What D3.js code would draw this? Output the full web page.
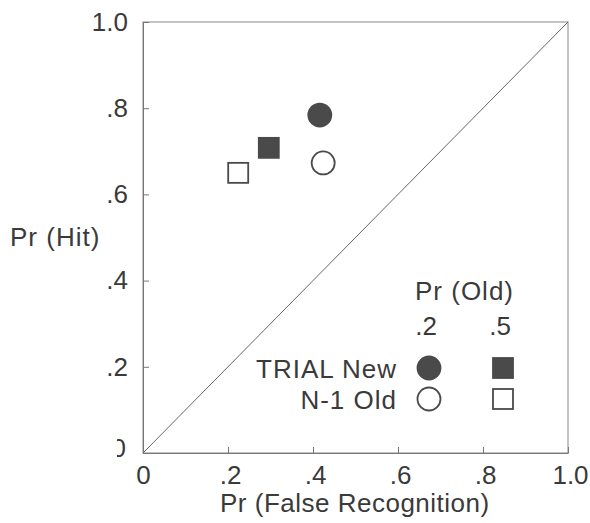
<!DOCTYPE html>
<html>
<head>
<meta charset="utf-8">
<script src="https://cdn.jsdelivr.net/npm/d3@7"></script>
<style>
  body { margin: 0; background: #fff; }
  text { font-family: "Liberation Sans", Arial, sans-serif; fill: #3a3a3a; }
</style>
</head>
<body>
<svg width="590" height="523"></svg>
<script>
// data
const conditions = ['TRIAL New', 'N-1 Old'];      // filled / open markers
const prOldLevels = ['.2', '.5'];                  // circle / square markers
const falseRecognition = [[0.416, 0.296], [0.424, 0.224]]; // [condition][prOld]
const hitRate = [[0.784, 0.708], [0.673, 0.650]];
const tickValues = [0, 0.2, 0.4, 0.6, 0.8, 1.0];

const svg = d3.select('svg');
const mLeft = 143, mRight = 568, mTop = 22, mBottom = 453;

const x = d3.scaleLinear().domain([0, 1]).range([mLeft, mRight]);
const y = d3.scaleLinear().domain([0, 1]).range([mBottom, mTop]);
const fmt = d => d === 0 ? '0' : d === 1 ? '1.0' : '.' + Math.round(d * 10);

const ink = '#4a4a4a';

// frame
svg.append('rect')
    .attr('x', mLeft).attr('y', mTop)
    .attr('width', mRight - mLeft).attr('height', mBottom - mTop)
    .attr('fill', 'none').attr('stroke', '#888').attr('stroke-width', 1);

// diagonal chance line
svg.append('line')
    .attr('x1', x(0)).attr('y1', y(0))
    .attr('x2', x(1)).attr('y2', y(1))
    .attr('stroke', '#666').attr('stroke-width', 1);

// axes, ticks pointing inward
const yAxis = svg.append('g')
    .attr('transform', `translate(${mLeft},0)`)
    .call(d3.axisLeft(y).tickValues(tickValues).tickFormat(fmt).tickSizeInner(-6).tickSizeOuter(0).tickPadding(15));
const xAxis = svg.append('g')
    .attr('transform', `translate(0,${mBottom})`)
    .call(d3.axisBottom(x).tickValues(tickValues).tickFormat(fmt).tickSizeInner(-6).tickSizeOuter(0).tickPadding(13));

[yAxis, xAxis].forEach(g => {
    g.select('.domain').attr('stroke', '#777');
    g.selectAll('.tick line').attr('stroke', '#777');
    g.selectAll('.tick text')
        .attr('font-family', '"Liberation Sans", Arial, sans-serif')
        .attr('font-size', 26)
        .attr('fill', '#3a3a3a');
});
xAxis.selectAll('.tick text').attr('dx', d => d === 0 ? 0 : 2);

// the y "0" is half cut off in the original print
svg.append('clipPath').attr('id', 'zeroClip')
    .append('rect').attr('x', -26).attr('y', -30).attr('width', 9).attr('height', 60);
yAxis.selectAll('.tick').filter(d => d === 0).select('text')
    .attr('x', -17).attr('dy', '0.15em')
    .attr('clip-path', 'url(#zeroClip)');

// axis titles
svg.append('text')
    .attr('x', 10).attr('y', 246)
    .attr('font-size', 26).attr('letter-spacing', 1)
    .text('Pr (Hit)');
svg.append('text')
    .attr('x', 220).attr('y', 512)
    .attr('font-size', 26).attr('letter-spacing', 0.5)
    .text('Pr (False Recognition)');

// marker drawing
const marker = (g, shape, filled, cx, cy) => {
    if (shape === 0) {
        g.append('circle').attr('cx', cx).attr('cy', cy).attr('r', 11.5)
            .attr('fill', filled ? ink : '#fff').attr('stroke', ink).attr('stroke-width', 1.8);
    } else {
        g.append('rect').attr('x', cx - 10).attr('y', cy - 10).attr('width', 20).attr('height', 20)
            .attr('fill', filled ? ink : '#fff').attr('stroke', ink).attr('stroke-width', 1.8);
    }
};

const points = [];
conditions.forEach((c, i) => prOldLevels.forEach((p, j) => {
    points.push({ cond: i, level: j, fa: falseRecognition[i][j], hit: hitRate[i][j] });
}));
const gPts = svg.append('g');
points.forEach(d => marker(gPts, d.level, d.cond === 0, x(d.fa), y(d.hit)));

// legend
const legend = svg.append('g');
legend.append('text').attr('x', 415).attr('y', 300)
    .attr('font-size', 26).attr('letter-spacing', 1).text('Pr (Old)');
const colX = [429, 503];
const rowY = [368, 399];
prOldLevels.forEach((p, j) => {
    legend.append('text').attr('x', colX[j] - 3).attr('y', 335)
        .attr('text-anchor', 'middle').attr('font-size', 26).text(p);
});
conditions.forEach((c, i) => {
    legend.append('text').attr('x', 397).attr('y', rowY[i] + 10)
        .attr('text-anchor', 'end').attr('font-size', 26).attr('letter-spacing', 1).text(c);
    prOldLevels.forEach((p, j) => marker(legend, j, i === 0, colX[j], rowY[i]));
});
</script>
</body>
</html>
